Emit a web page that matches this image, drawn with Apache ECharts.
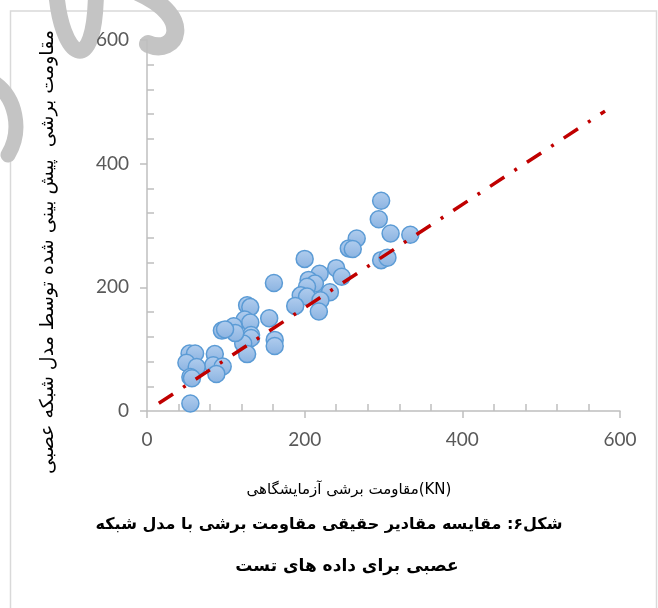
<!DOCTYPE html>
<html>
<head>
<meta charset="utf-8">
<script src="https://cdn.jsdelivr.net/npm/echarts@6/dist/echarts.min.js"></script>
<style>
	html, body { margin:0; padding:0; background:#fff; }
	#chart { width:658px; height:608px; }
</style>
</head>
<body>
<div id="chart"></div>
<script>
// آزمایشگاهی (x) / پیش بینی شبکه عصبی (y)
var testX = [297, 294, 309, 334, 297, 305, 266, 256, 261, 200,
	240, 247, 219, 205, 213, 203, 232, 195, 203, 220,
	218, 188, 161, 155, 162, 162, 127, 131, 124, 131,
	132, 132, 122, 127, 110, 112, 95, 99, 86, 84,
	96, 88, 54, 61, 50, 63, 55, 57, 55];
var predY = [340, 310, 287, 285, 244, 248, 279, 263, 262, 246,
	231, 217, 222, 212, 206, 201, 192, 187, 185, 179,
	161, 170, 207, 150, 115, 105, 171, 168, 148, 143,
	123, 118, 109, 92, 137, 126, 130, 132, 92, 74,
	72, 60, 93, 93, 78, 71, 55, 53, 12];
// خط روند
var trendX = [15, 581];
var trendY = [12.5, 485];

var xTicks = [0, 200, 400, 600];
var yTicks = [0, 200, 400, 600];

var yTitle = "مقاومت برشی  پیش بینی شده توسط مدل شبکه عصبی";
var xTitle = "مقاومت برشی آزمایشگاهی(KN)";
var caption1 = "شکل۶: مقایسه مقادیر حقیقی مقاومت برشی با مدل شبکه";
var caption2 = "عصبی برای داده های تست";

var Chart = function() {
	var build = function(xs, ys){
		var out = [];
		for(var i = 0; i < xs.length; i++){
			out.push([xs[i], ys[i]]);
		}
		return out;
	};

	var axisCommon = function(ticks){
		return {
			type: 'value',
			min: ticks[0],
			max: ticks[ticks.length - 1],
			interval: ticks[1] - ticks[0],
			axisLine: { show: true, lineStyle: { color: '#bfbfbf', width: 1.5 } },
			axisTick: { show: true, inside: false, length: 7, lineStyle: { color: '#bfbfbf', width: 1.5 } },
			minorTick: { show: true, splitNumber: 5, length: -7, lineStyle: { color: '#bfbfbf', width: 1.5 } },
			splitLine: { show: false },
			axisLabel: { color: '#595959', fontSize: 19, fontFamily: 'Lato' }
		};
	};

	var init = function(){
		var chart = echarts.init(document.getElementById('chart'));
		var xAxis = axisCommon(xTicks);
		xAxis.axisLabel.margin = 19;
		var yAxis = axisCommon(yTicks);
		yAxis.axisLabel.margin = 18;

		var grey = '#c4c4c4';
		var option = {
			animation: false,
			backgroundColor: '#fff',
			grid: { left: 147, right: 38, top: 40, bottom: 197 },
			xAxis: xAxis,
			yAxis: yAxis,
			graphic: [
				// قاب
				{ type: 'rect', shape: { x: 10.5, y: 11, width: 646, height: 640 }, style: { fill: 'none', stroke: '#d9d9d9', lineWidth: 1.5 }, z: -10 },
				// واترمارک
				{ type: 'bezierCurve', shape: { x1: 56, y1: -12, cpx1: 60, cpy1: 58, cpx2: 96, cpy2: 84, x2: 96, y2: -12 }, style: { stroke: grey, lineWidth: 16, fill: 'none' }, z: -5 },
				{ type: 'bezierCurve', shape: { x1: 138, y1: -8, cpx1: 196, cpx2: 176, cpy1: 18, cpy2: 56, x2: 148, y2: 44 }, style: { stroke: grey, lineWidth: 18, lineCap: 'round', fill: 'none' }, z: -5 },
				{ type: 'bezierCurve', shape: { x1: -10, y1: 80, cpx1: 18, cpy1: 96, cpx2: 22, cpy2: 132, x2: 8, y2: 155 }, style: { stroke: grey, lineWidth: 15, lineCap: 'round', fill: 'none' }, z: -5 },
				// عنوان محور عمودی
				{ type: 'text', x: 48, y: 252, rotation: Math.PI / 2,
				  style: { text: yTitle, fontSize: 19, fontFamily: 'DejaVu Sans', fill: '#000', align: 'center', verticalAlign: 'middle' } },
				// عنوان محور افقی
				{ type: 'text', x: 349, y: 490,
				  style: { text: xTitle, fontSize: 15, fontFamily: 'DejaVu Sans', fill: '#000', align: 'center', verticalAlign: 'middle' } },
				// زیرنویس شکل
				{ type: 'text', x: 329, y: 525,
				  style: { text: caption1, fontSize: 16, fontWeight: 'bold', fontFamily: 'DejaVu Sans', fill: '#000', align: 'center', verticalAlign: 'middle' } },
				{ type: 'text', x: 347, y: 567,
				  style: { text: caption2, fontSize: 17, fontWeight: 'bold', fontFamily: 'DejaVu Sans', fill: '#000', align: 'center', verticalAlign: 'middle' } }
			],
			series: [{
				type: 'scatter',
				data: build(testX, predY),
				symbol: 'circle',
				symbolSize: 17,
				itemStyle: {
					color: new echarts.graphic.LinearGradient(0, 0, 0, 1, [
						{ offset: 0, color: '#b1cdee' },
						{ offset: 1, color: '#8bb3e1' }
					]),
					borderColor: '#5b9bd5',
					borderWidth: 1.5,
					opacity: 1
				},
				z: 2
			}, {
				type: 'line',
				data: build(trendX, trendY),
				showSymbol: false,
				symbol: 'none',
				lineStyle: { color: '#c00000', width: 3.5, type: [17, 12, 3, 12], cap: 'butt' },
				z: 3
			}]
		};
		chart.setOption(option);
	};

	return { init: init };
}();

Chart.init();
</script>
</body>
</html>
